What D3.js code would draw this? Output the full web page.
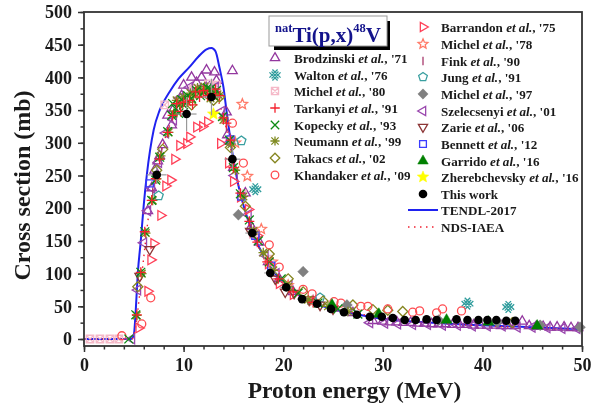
<!DOCTYPE html>
<html>
<head>
<meta charset="utf-8">
<script src="https://cdn.jsdelivr.net/npm/d3@7"></script>
<style>
  html, body { margin: 0; padding: 0; background: #fff; }
  svg { display: block; filter: blur(0.5px); }
  text { font-family: "Liberation Serif", serif; font-weight: bold; fill: #1a1a1a; }
</style>
</head>
<body>
<div id="chart"></div>
<script>
// values, [energy MeV, cross section mb]
var brodzinski = [[6.4,196],[6.8,231],[7.1,258],[7.4,272],[7.6,280],[7.9,297],[8.4,342],[8.8,327],[9,352],[9.4,362],[9.8,372],[10,388],[10.8,400],[11.3,392],[11.8,400],[12.3,411],[12.6,385],[13.1,408],[13.3,395],[14.9,410],[14.3,347],[14.4,312],[15,262],[16.2,223],[16.8,172],[17.6,148],[18.5,118],[19.6,92],[21,72],[23,58],[25,47],[27,40],[29,28],[30,27],[30.7,26],[31.4,26],[32.1,25],[32.8,25],[33.5,24],[34.2,24],[34.9,23],[35.6,23],[36.3,23],[37,22],[37.7,22],[38.4,22],[39.1,21],[39.8,21],[40.5,21],[41.2,21],[41.9,20],[42.6,20],[43.3,20],[44,27],[44.7,20],[45.4,19],[46.1,19],[46.8,18],[47.5,18],[48.2,18],[48.9,17],[49.6,17]];
var walton = [[17.2,229],[38.5,54],[42.6,49]];
var michel80 = [[0.6,0],[1.6,0],[2.6,0],[3.5,0],[8.1,358],[9.5,365],[11,382],[12.5,390],[13.3,388],[14.8,305],[15.9,222],[17,160],[18.5,122]];
var tarkanyi = [[5.3,37],[5.7,102],[6.1,164],[6.8,212],[7.2,245],[7.6,275],[8.4,316],[8.9,342],[9.3,360],[9.7,348],[10,362],[10.6,365],[10.9,358],[11.2,378],[11.6,370],[12,380],[12.4,372],[12.8,375],[13.2,382],[13.6,372],[14,338],[14.3,330],[14.7,304],[15,262],[15.7,223],[16.6,180],[17.4,148],[18.4,118],[19.5,92],[21,72],[23,56],[25,48]];
var kopecky = [[4.5,0],[5.2,37],[5.7,102],[6.1,164],[6.8,212],[7.2,243],[7.6,278],[8.4,317],[8.8,342],[8.9,360],[9.2,352],[9.5,345],[9.8,366],[10,358],[10.4,372],[10.8,368],[11.3,380],[11.7,372],[12,378],[12.4,384],[12.7,382],[13,372],[13.3,380],[13.9,340],[14.6,304],[15,262],[15.7,222],[16.6,182],[17.5,150],[18.6,118],[19.8,92],[21.5,70],[23.5,55],[25.5,46],[27.5,38]];
var neumann = [[5.3,36],[5.8,100],[6.2,162],[6.9,212],[7.3,245],[7.7,280],[8.5,316],[9,345],[9.3,365],[9.6,358],[10,370],[10.4,362],[10.7,376],[11,372],[11.4,384],[11.7,378],[12.1,386],[12.4,380],[12.7,368],[13,378],[13.4,374],[13.6,372],[14,335],[14.8,298],[15.2,258],[16,218],[17,165],[18,132],[19,105],[20.5,80],[22.5,60],[24.5,50],[26.5,42]];
var takacs = [[5.4,80],[7.3,258],[7.9,290],[10.8,358],[13,365],[13.6,370],[14.7,293],[16.2,203],[18.6,130],[20.5,92],[22,72],[24,58],[27,52],[29,45],[30.5,44],[32,42],[43,25]];
var khandaker = [[3.8,5],[5.8,23],[6.7,63],[14.9,330],[16,269],[18.6,144],[19.6,110],[22,76],[22.9,69],[25.1,57],[25.8,55],[27.8,50],[28.5,50],[30.5,46],[33,41],[33.7,43],[35.4,40],[36,46],[37.9,43]];
var barrandon = [[5.5,17],[6.4,73],[6.7,121],[7,146],[7.7,189],[8.2,234],[8.7,243],[9.1,275],[9.6,296],[10.3,299],[10.6,309],[11.3,324],[11.9,325],[12.4,332],[13.7,299],[14.5,269],[15,241],[15.7,217],[16.5,198],[17.4,158],[18.5,115],[19.6,85],[21,68]];
var michel78 = [[15.9,359],[16.4,249],[15.2,300],[17.8,168],[18.9,118],[20.5,82],[23,58]];
var fink = [[6.9,225],[7.8,285],[9.2,345],[12.2,375],[14.3,325],[16.8,170]];
var jung = [[7.5,219],[15.8,303],[23.7,63]];
var michel97 = [[15.5,190],[22,103],[26.4,52],[35.6,29],[41.5,26],[45.8,21],[49.8,18]];
var szelecsenyi = [[4.8,0],[5.4,75],[6,147],[6.4,196],[6.8,231],[7.5,270],[8.2,315],[9,335],[9.6,368],[10.6,385],[12,385],[13.2,385],[13.8,348],[14.6,300],[15.1,250],[16.5,190],[17.3,158],[18.2,128],[19.3,100],[20.6,82],[23,58],[28.7,25],[30.2,24],[31.5,23],[33,22],[34.5,22],[36,21],[37.5,21],[39,20],[40.5,20],[42,20],[43.5,18],[45,18],[46.5,17],[48,16],[49.5,16]];
var zarie = [[5.6,96],[6.6,137],[16.7,165],[19.2,92],[20.2,72],[21.1,70],[22.6,60],[23.7,52],[25,46]];
var bennett = [[6.6,238],[14.7,305],[15.8,218],[17.2,158],[18.8,112]];
var garrido = [[24.9,52],[29.6,38],[36.4,29],[40.6,26],[45.5,20]];
var zherebchevsky = [[13,344]];
var thisWork = [[7.3,251],[10.3,344],[12.8,370],[14.9,275],[16.9,162],[18.7,101],[20.3,79],[21.9,61],[23.4,54],[24.8,46],[26.1,41],[27.4,37],[28.7,34],[29.9,34],[31,32],[32.2,29],[33.3,29],[34.4,30],[35.4,29],[37.4,30],[38.5,29],[39.6,29],[40.5,29],[41.4,29],[42.4,28],[43.3,28]];
var thisWorkYErr = [14,26,28,16,8,5,4,3,3,2,2,2,2,2,2,2,2,2,2,2,2,2,2,2,2,2];
var thisWorkXErr = [1,1,0.9,0.8,0.7,0.6,0.6,0.5,0.5,0.4,0.4,0.4,0.3,0.3,0.3,0.3,0.3,0.3,0.3,0.3,0.3,0.3,0.3,0.3,0.3,0.3];
var tendl = [[0,0],[4.7,0],[5,6],[5.2,45],[5.4,100],[5.7,150],[6,205],[6.3,250],[7,320],[7.6,350],[8.6,378],[9.5,398],[10.6,416],[11.5,432],[12.3,443],[12.8,445],[13.2,440],[13.6,415],[14,385],[14.3,350],[14.7,305],[15,275],[15.5,235],[16,205],[17,160],[18,128],[19,104],[20,86],[22,63],[24,50],[26,42],[28,36],[30,31],[35,25],[40,21],[45,18],[50,15]];
var ndsIaea = [[0,0],[4.8,0],[5.2,20],[5.6,70],[6,125],[6.5,190],[7,235],[8,300],[9,340],[10,360],[11,372],[12,378],[13,375],[14,340],[15,270],[16,205],[17,160],[18,125],[19,100],[20,85],[22,63],[25,47],[30,33],[35,25],[40,20],[45,17],[50,14]];

var xTicks = [0, 10, 20, 30, 40, 50];
var yTicks = [0, 50, 100, 150, 200, 250, 300, 350, 400, 450, 500];
var xMinor = d3.range(0, 50.1, 2);
var yMinor = d3.range(0, 500.1, 25);

var frame = { width: 592, height: 403 };
var plot = { left: 84, right: 582, top: 12, bottom: 346 };

var x = d3.scaleLinear().domain([0, 50]).range([plot.left, plot.right]);
var y = d3.scaleLinear().domain([0, 500]).range([339, plot.top]);

var svg = d3.select('#chart').append('svg')
  .attr('width', frame.width)
  .attr('height', frame.height);

// marker shapes, all drawn around 0,0 with radius r
function poly(pts) {
  return 'M' + pts.map(function (p) { return p[0] + ',' + p[1]; }).join('L') + 'Z';
}
function ring(n, r, rot) {
  return d3.range(n).map(function (i) {
    var a = rot + i * 2 * Math.PI / n;
    return [r * Math.cos(a), r * Math.sin(a)];
  });
}
var shapes = {
  triUp: function (r) { return poly(ring(3, r, -Math.PI / 2)); },
  triDown: function (r) { return poly(ring(3, r, Math.PI / 2)); },
  triLeft: function (r) { return poly(ring(3, r, Math.PI)); },
  triRight: function (r) { return poly(ring(3, r, 0)); },
  diamond: function (r) { return poly(ring(4, r, 0)); },
  square: function (r) { return poly(ring(4, r * 1.2, Math.PI / 4)); },
  pentagon: function (r) { return poly(ring(5, r, -Math.PI / 2)); },
  circle: function (r) { return 'M' + r + ',0A' + r + ',' + r + ' 0 1 1 ' + (-r) + ',0A' + r + ',' + r + ' 0 1 1 ' + r + ',0Z'; },
  star: function (r) {
    var o = ring(5, r, -Math.PI / 2), n = ring(5, r * 0.45, -Math.PI / 2 + Math.PI / 5), p = [];
    o.forEach(function (q, i) { p.push(q, n[i]); });
    return poly(p);
  },
  plus: function (r) { return 'M' + (-r) + ',0H' + r + 'M0,' + (-r) + 'V' + r; },
  cross: function (r) { return 'M' + (-r) + ',' + (-r) + 'L' + r + ',' + r + 'M' + (-r) + ',' + r + 'L' + r + ',' + (-r); },
  bar: function (r) { return 'M0,' + (-r) + 'V' + r; },
  aster: function (r) {
    var k = r * 0.8;
    return 'M' + (-r) + ',0H' + r + 'M' + (-k) + ',' + (-k) + 'L' + k + ',' + k + 'M' + (-k) + ',' + k + 'L' + k + ',' + (-k) + 'M0,' + (-r) + 'V' + r;
  },
  // lattice of crossing strokes, clipped to a rough circle
  hatch: function (r) {
    var s = '';
    [-r * 0.6, 0, r * 0.6].forEach(function (d) {
      var h = r * (1 - Math.abs(d) / (r * 2.4));
      s += 'M' + (d - h * 0.7) + ',' + (-h * 0.7) + 'L' + (d + h * 0.7) + ',' + h * 0.7;
      s += 'M' + (d - h * 0.7) + ',' + h * 0.7 + 'L' + (d + h * 0.7) + ',' + (-h * 0.7);
      s += 'M' + (-h * 0.7) + ',' + (d - h * 0.7) + 'L' + h * 0.7 + ',' + (d + h * 0.7);
      s += 'M' + (-h * 0.7) + ',' + (d + h * 0.7) + 'L' + h * 0.7 + ',' + (d - h * 0.7);
    });
    return s;
  },
  hatchSquare: function (r) {
    var k = r * 0.85;
    return poly(ring(4, r * 1.2, Math.PI / 4)) + 'M' + (-k) + ',' + (-k) + 'L' + k + ',' + k + 'M' + (-k) + ',' + k + 'L' + k + ',' + (-k);
  }
};

var series = [
  { name: 'Brodzinski', year: "'71", data: brodzinski, shape: 'triUp', r: 5.6, color: '#93379f', col: 0, row: 0 },
  { name: 'Walton', year: "'76", data: walton, shape: 'hatch', r: 5.2, color: '#2f9c9c', col: 0, row: 1 },
  { name: 'Michel', year: "'80", data: michel80, shape: 'hatchSquare', r: 4.4, color: '#f5b9c8', col: 0, row: 2 },
  { name: 'Szelecsenyi', year: "'01", data: szelecsenyi, shape: 'triLeft', r: 5.6, color: '#9a48ae', col: 1, row: 5 },
  { name: 'Barrandon', year: "'75", data: barrandon, shape: 'triRight', r: 5.6, color: '#ff4058', col: 1, row: 0 },
  { name: 'Michel', year: "'78", data: michel78, shape: 'star', r: 5.4, color: '#ff7a68', col: 1, row: 1 },
  { name: 'Fink', year: "'90", data: fink, shape: 'bar', r: 4.5, color: '#a83a6c', col: 1, row: 2 },
  { name: 'Jung', year: "'91", data: jung, shape: 'pentagon', r: 4.8, color: '#3a9fa0', col: 1, row: 3 },
  { name: 'Zarie', year: "'06", data: zarie, shape: 'triDown', r: 5.6, color: '#8c3535', col: 1, row: 6 },
  { name: 'Bennett', year: "'12", data: bennett, shape: 'square', r: 4.2, color: '#3a3cff', col: 1, row: 7 },
  { name: 'Takacs', year: "'02", data: takacs, shape: 'diamond', r: 5, color: '#85851f', col: 0, row: 6 },
  { name: 'Khandaker', year: "'09", data: khandaker, shape: 'circle', r: 4, color: '#ff4b50', col: 0, row: 7 },
  { name: 'Michel', year: "'97", data: michel97, shape: 'diamond', r: 5.4, color: '#808080', fill: true, col: 1, row: 4 },
  { name: 'Neumann', year: "'99", data: neumann, shape: 'aster', r: 4.8, color: '#7f8a20', col: 0, row: 5 },
  { name: 'Kopecky', year: "'93", data: kopecky, shape: 'cross', r: 4.4, color: '#0c8a14', col: 0, row: 4 },
  { name: 'Tarkanyi', year: "'91", data: tarkanyi, shape: 'plus', r: 5, color: '#f5202c', col: 0, row: 3 },
  { name: 'Garrido', year: "'16", data: garrido, shape: 'triUp', r: 6.4, color: '#008000', fill: true, col: 1, row: 8 },
  { name: 'Zherebchevsky', year: "'16", data: zherebchevsky, shape: 'star', r: 6.4, color: '#ffff00', fill: true, col: 1, row: 9 }
];

var line = d3.line()
  .x(function (d) { return x(d[0]); })
  .y(function (d) { return y(d[1]); })
  .curve(d3.curveMonotoneX);

svg.append('path').datum(tendl)
  .attr('d', line).attr('fill', 'none')
  .attr('stroke', '#1f22f0').attr('stroke-width', 2);

svg.append('path').datum(ndsIaea)
  .attr('d', line).attr('fill', 'none')
  .attr('stroke', '#f02030').attr('stroke-width', 1.4)
  .attr('stroke-dasharray', '1.5,4.5');

function markerWidth(s) {
  return s.fill ? 0.5 : 1.3;
}

var markerLayer = svg.append('g');
series.forEach(function (s) {
  markerLayer.append('g').selectAll('path').data(s.data).enter().append('path')
    .attr('d', shapes[s.shape](s.r))
    .attr('transform', function (d) { return 'translate(' + x(d[0]) + ',' + y(d[1]) + ')'; })
    .attr('fill', s.fill ? s.color : 'none')
    .attr('stroke', s.color)
    .attr('stroke-width', markerWidth(s));
});

// this work: error bars then black dots
var errs = svg.append('g').attr('stroke', '#999').attr('stroke-width', 1.2);
thisWork.forEach(function (d, i) {
  errs.append('line').attr('x1', x(d[0])).attr('x2', x(d[0]))
    .attr('y1', y(d[1] - thisWorkYErr[i])).attr('y2', y(d[1] + thisWorkYErr[i]));
  errs.append('line').attr('y1', y(d[1])).attr('y2', y(d[1]))
    .attr('x1', x(d[0] - thisWorkXErr[i])).attr('x2', x(d[0] + thisWorkXErr[i]));
});
svg.append('g').selectAll('circle').data(thisWork).enter().append('circle')
  .attr('cx', function (d) { return x(d[0]); })
  .attr('cy', function (d) { return y(d[1]); })
  .attr('r', 4.3).attr('fill', '#000');

// frame and axes
svg.append('rect')
  .attr('x', plot.left).attr('y', plot.top)
  .attr('width', plot.right - plot.left).attr('height', plot.bottom - plot.top)
  .attr('fill', 'none').attr('stroke', '#333').attr('stroke-width', 1.8);

svg.append('g')
  .attr('class', 'axis axis--x')
  .attr('transform', 'translate(0,' + plot.bottom + ')')
  .call(d3.axisBottom(x).tickValues(xMinor).tickSize(3.5).tickFormat(''))
  .call(function (g) { g.select('.domain').remove(); });
svg.append('g')
  .attr('class', 'axis axis--x')
  .attr('transform', 'translate(0,' + plot.bottom + ')')
  .call(d3.axisBottom(x).tickValues(xTicks).tickSize(6).tickPadding(6))
  .call(function (g) { g.select('.domain').remove(); });

svg.append('g')
  .attr('class', 'axis axis--y')
  .attr('transform', 'translate(' + plot.left + ',0)')
  .call(d3.axisLeft(y).tickValues(yMinor).tickSize(3.5).tickFormat(''))
  .call(function (g) { g.select('.domain').remove(); });
svg.append('g')
  .attr('class', 'axis axis--y')
  .attr('transform', 'translate(' + plot.left + ',0)')
  .call(d3.axisLeft(y).tickValues(yTicks).tickSize(6).tickPadding(6))
  .call(function (g) { g.select('.domain').remove(); });

svg.selectAll('.axis line').attr('stroke', '#333').attr('stroke-width', 1.5);
svg.selectAll('.axis text')
  .style('font-family', '"Liberation Serif", serif')
  .style('font-size', '18px').style('font-weight', 'bold').attr('fill', '#1a1a1a');

svg.append('text')
  .attr('x', 354.5).attr('y', 398)
  .attr('text-anchor', 'middle').style('font-size', '23.5px')
  .text('Proton energy (MeV)');
svg.append('text')
  .attr('transform', 'translate(30,185.5) rotate(-90)')
  .attr('text-anchor', 'middle').style('font-size', '24px')
  .text('Cross section (mb)');

// legend
var colX = [[275, 294], [423, 441]];
var rowY = [[58, 75, 91, 108, 125, 141, 158, 175], [27, 44, 61, 77, 94, 111, 127, 144, 161, 177]];
var legend = svg.append('g');

function legendLabel(lx, ly, name, year) {
  var t = legend.append('text').attr('x', lx).attr('y', ly + 4.5).style('font-size', '13.1px');
  t.append('tspan').text(name + ' ');
  if (year) {
    t.append('tspan').style('font-style', 'italic').text('et al.');
    t.append('tspan').text(', ' + year);
  }
}

series.forEach(function (s) {
  var ly = rowY[s.col][s.row];
  legend.append('path')
    .attr('d', shapes[s.shape](s.r * 0.95))
    .attr('transform', 'translate(' + colX[s.col][0] + ',' + ly + ')')
    .attr('fill', s.fill ? s.color : 'none')
    .attr('stroke', s.color).attr('stroke-width', markerWidth(s));
  legendLabel(colX[s.col][1], ly, s.name, s.year);
});

legend.append('circle').attr('cx', 423).attr('cy', 194).attr('r', 4.3).attr('fill', '#000');
legendLabel(441, 194, 'This work');
legend.append('line').attr('x1', 408).attr('x2', 438).attr('y1', 210).attr('y2', 210)
  .attr('stroke', '#1f22f0').attr('stroke-width', 2);
legendLabel(441, 210, 'TENDL-2017');
legend.append('line').attr('x1', 408).attr('x2', 438).attr('y1', 227).attr('y2', 227)
  .attr('stroke', '#f02030').attr('stroke-width', 1.4).attr('stroke-dasharray', '1.5,4.5');
legendLabel(441, 227, 'NDS-IAEA');

// title box with its drop shadow
legend.append('rect').attr('x', 274).attr('y', 21).attr('width', 116).attr('height', 29).attr('fill', '#000');
legend.append('rect').attr('x', 269).attr('y', 16).attr('width', 118).attr('height', 30)
  .attr('fill', '#fff').attr('stroke', '#999').attr('stroke-width', 1);
var title = legend.append('text').attr('x', 275).attr('y', 42).style('fill', '#14148c').style('font-size', '21px');
title.append('tspan').attr('dy', -10).style('font-size', '12.5px').text('nat');
title.append('tspan').attr('dy', 10).text('Ti(p,x)');
title.append('tspan').attr('dy', -10).style('font-size', '12.5px').text('48');
title.append('tspan').attr('dy', 10).text('V');
</script>
</body>
</html>
